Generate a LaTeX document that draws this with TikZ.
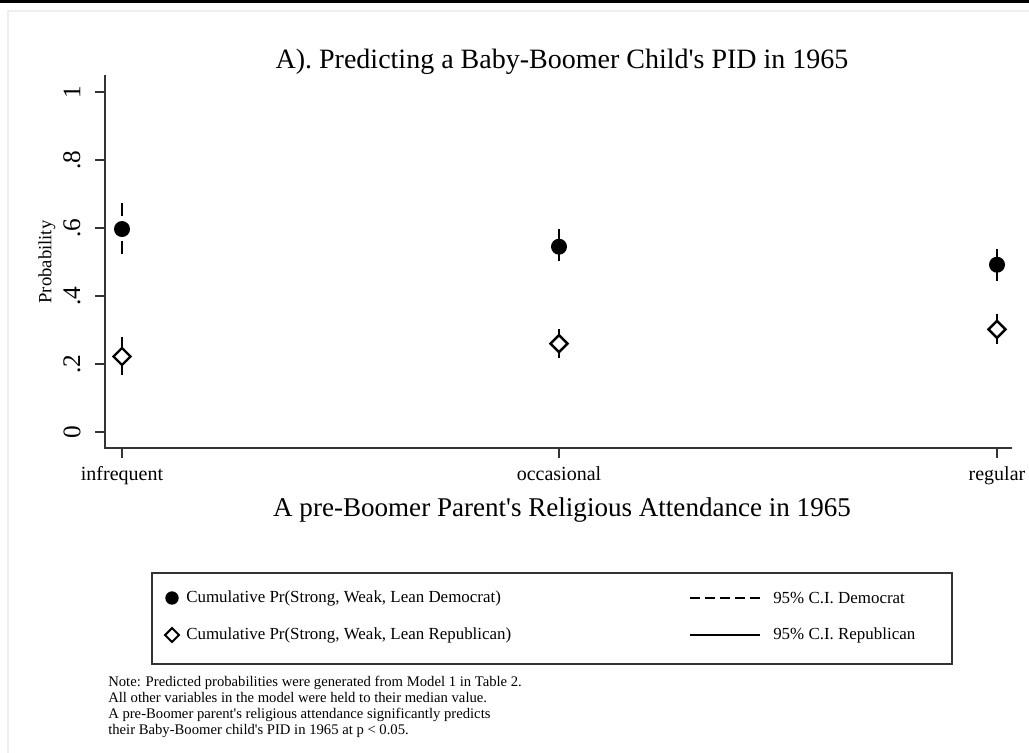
\documentclass[tikz,border=0pt]{standalone}
\usepackage{fontspec}
\setmainfont{Liberation Serif}
\usetikzlibrary{shapes.geometric}
\definecolor{framegray}{HTML}{EEEEEE}
\definecolor{axisgray}{HTML}{333333}
\newcommand{\sq}{\textquotesingle}
\tikzset{%
axisline/.style={draw=axisgray,line width=1.1pt},
ticklab/.style={font=\fontsize{15}{18}\selectfont},
ylab/.style={rotate=90,font=\fontsize{19}{22}\selectfont},
heading/.style={font=\fontsize{21}{25}\selectfont},
dem/.style={circle,fill=black,inner sep=0pt,minimum size=12pt},
rep/.style={diamond,draw=black,fill=white,line width=1.8pt,inner sep=0pt,minimum size=13.5pt},
cidem/.style={line width=2.2pt,dash pattern=on 9.75pt off 4.5pt},
cirep/.style={line width=2.2pt},
legtext/.style={anchor=west,font=\fontsize{12.7}{15}\selectfont},
}
\begin{document}
\begin{tikzpicture}[x=0.75pt,y=-0.75pt,
                    every node/.append style={inner sep=0pt}]
\useasboundingbox (0,0) rectangle (1029,753);
\fill[black] (0,0) rectangle (1029,2.5);
\draw[framegray,line width=1.5pt] (8,753) |- (1029,11);

% title
\node[heading] (title) at (562,62) {A). Predicting a Baby-Boomer Child\sq s PID in 1965};

% axes
\coordinate (ytop) at (105,75);
\coordinate (xend) at (1012,448);
\draw[axisline] (ytop) |- (xend);

% y ticks
\foreach \v [count=\i] in {0,.2,.4,.6,.8,1}{
  \coordinate (yt\i) at (105,{432-340*\v});
  \draw[axisline] (yt\i) -- ++(-10,0);
  \node[ylab] (yl\i) at (72,{432-340*\v}) {\v};
}
\node[rotate=90,font=\fontsize{14}{17}\selectfont] (ytitle) at (47,262) {Probability};

% x ticks
\foreach \x/\lab [count=\i] in {122/infrequent,559/occasional,997/regular}{
  \coordinate (xt\i) at (\x,448);
  \draw[axisline] (xt\i) -- ++(0,10);
  \node[ticklab,anchor=north] (xl\i) at (\x,466) {\lab};
}
\node[heading,font=\fontsize{20.3}{24}\selectfont] (xtitle) at (562,510) {A pre-Boomer Parent\sq s Religious Attendance in 1965};

% estimates
\begin{scope}[shift={(0,432)},yscale=-340]
\coordinate (dhi1) at (122,.675); \coordinate (dlo1) at (122,.52);
\coordinate (rhi1) at (122,.28);  \coordinate (rlo1) at (122,.168);
\coordinate (dhi2) at (559,.60);  \coordinate (dlo2) at (559,.494);
\coordinate (rhi2) at (559,.303); \coordinate (rlo2) at (559,.218);
\coordinate (dhi3) at (997,.54);  \coordinate (dlo3) at (997,.44);
\coordinate (rhi3) at (997,.347); \coordinate (rlo3) at (997,.259);
\draw[cidem] (dhi1) -- (dlo1);
\draw[cidem] (dhi2) -- (dlo2);
\draw[cidem] (dhi3) -- (dlo3);
\draw[cirep] (rhi1) -- (rlo1);
\draw[cirep] (rhi2) -- (rlo2);
\draw[cirep] (rhi3) -- (rlo3);
\node[dem] (infdem) at (122,.597) {};
\node[dem] (occdem) at (559,.545) {};
\node[dem] (regdem) at (997,.492) {};
\node[rep] (infrep) at (122,.222) {};
\node[rep] (occrep) at (559,.26) {};
\node[rep] (regrep) at (997,.302) {};
\end{scope}

% legend
\draw[axisline] (152,573) rectangle (952,664);
\node[dem,minimum size=10pt] (legdem) at (172,598) {};
\node[legtext] (legdemtext) at (186,598) {Cumulative Pr(Strong, Weak, Lean Democrat)};
\node[rep,minimum size=11pt,line width=1.5pt] (legrep) at (172,635) {};
\node[legtext] (legreptext) at (186,635) {Cumulative Pr(Strong, Weak, Lean Republican)};
\coordinate (ldem1) at (690,598); \coordinate (ldem2) at (760,598);
\coordinate (lrep1) at (690,635); \coordinate (lrep2) at (760,635);
\draw[line width=2pt,dash pattern=on 7.5pt off 3.75pt] (ldem1) -- (ldem2);
\draw[line width=2pt] (lrep1) -- (lrep2);
\node[legtext] (legcidem) at (773,598) {95\% C.I. Democrat};
\node[legtext] (legcirep) at (773,635) {95\% C.I. Republican};

% note
\node[anchor=north west,align=left,font=\fontsize{11}{12}\selectfont] (note) at (108,676)
  {Note: Predicted probabilities were generated from Model 1 in Table 2.\\
   All other variables in the model were held to their median value.\\
   A pre-Boomer parent\sq s religious attendance significantly predicts\\
   their Baby-Boomer child\sq s PID in 1965 at p < 0.05.};
\end{tikzpicture}
\end{document}
